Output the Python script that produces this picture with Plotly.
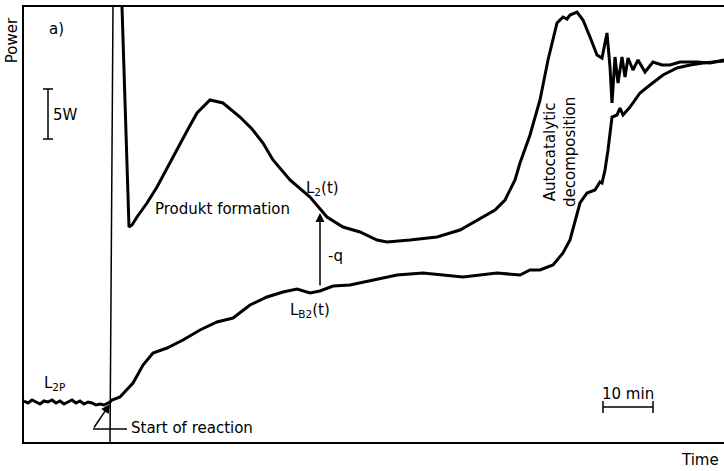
import plotly.graph_objects as go

# time in minutes from start of reaction, power in W (relative to L2P baseline)
t_base = [-17.2, -16.4, -15.6, -14.8, -14.0, -13.2, -12.4, -11.6, -10.8, -10.0, -9.2,
          -8.4, -7.6, -6.8, -6.0, -5.2, -4.4, -3.6, -2.8, -2.0, -1.2, -0.4, 0.0]
p_base = [0.1, -0.1, 0.2, 0.0, -0.2, 0.1, 0.0, 0.2, -0.1, 0.1, -0.2,
          0.0, 0.2, -0.1, 0.1, -0.2, 0.0, -0.1, -0.3, -0.2, -0.3, -0.1, 0.0]

t_l2 = [2.2, 2.4, 3.8, 4.4, 5.4, 7.4, 9.4, 11.4, 13.4, 15.4, 17.4, 20.0, 22.6, 26.0, 28.4,
        30.6, 32.6, 36.0, 40.0, 43.4, 46.6, 50.0, 53.4, 55.4, 60.0, 65.4, 70.0, 73.4,
        77.0, 79.0, 81.0, 82.0, 84.0, 86.0, 87.6, 89.4, 90.6, 91.4, 92.0, 93.4, 94.6,
        96.0, 97.4, 98.4, 99.0, 99.4, 100.0, 100.4, 101.0, 101.6, 102.4, 103.0, 103.6,
        104.6, 105.6, 107.0, 108.6, 110.4, 112.0, 114.0, 117.4, 120.0, 122.8]
p_l2 = [45.0, 39.5, 17.5, 17.7, 18.5, 19.9, 21.5, 23.4, 25.2, 27.1, 28.9, 30.2, 29.9, 28.5,
        27.3, 25.9, 24.2, 22.2, 20.5, 18.5, 17.5, 17.0, 16.2, 16.0, 16.2, 16.5, 17.2, 18.2,
        19.2, 20.2, 22.2, 23.9, 26.7, 30.2, 34.2, 37.9, 38.5, 38.3, 38.7, 39.0, 38.2,
        36.5, 34.7, 34.4, 35.9, 36.9, 33.5, 29.9, 34.5, 31.9, 34.5, 32.5, 34.4,
        33.2, 34.2, 33.0, 34.0, 33.7, 33.7, 34.0, 34.0, 33.9, 34.2]

t_lb2 = [0.0, 0.4, 2.0, 4.6, 6.6, 8.6, 11.4, 14.6, 18.0, 21.4, 24.6, 28.0, 31.4, 34.6,
         37.4, 40.0, 42.0, 44.6, 48.0, 52.6, 57.4, 62.6, 70.6, 77.4, 82.0, 84.0, 86.0,
         88.6, 90.6, 92.0, 93.0, 94.0, 95.4, 97.0, 98.0, 98.4, 99.0, 99.6, 100.4, 101.4,
         102.0, 102.6, 104.0, 106.0, 108.0, 110.6, 113.4, 116.0, 118.6, 122.8]
p_lb2 = [0.0, 0.2, 0.5, 1.9, 3.7, 4.9, 5.4, 6.2, 7.2, 8.0, 8.4, 9.7, 10.5, 11.0,
         11.3, 10.9, 11.1, 11.6, 11.7, 12.2, 12.7, 12.9, 12.5, 12.9, 12.7, 13.2, 13.2,
         13.7, 14.9, 16.2, 18.2, 19.9, 20.9, 21.2, 22.0, 21.9, 23.2, 25.2, 28.5, 28.7,
         29.4, 28.7, 29.5, 30.9, 31.7, 32.7, 33.4, 33.7, 33.9, 34.1]

reaction_start = 0.0
arrow_t = 42.0

fig = go.Figure()
line = dict(color="black", width=3)
fig.add_trace(go.Scatter(x=t_base, y=p_base, mode="lines", line=line))
fig.add_trace(go.Scatter(x=t_l2, y=p_l2, mode="lines", line=line))
fig.add_trace(go.Scatter(x=t_lb2, y=p_lb2, mode="lines", line=line))

thin = dict(color="black", width=1.5)
# start of reaction marker
fig.add_shape(type="line", x0=reaction_start, x1=reaction_start + 0.6, y0=-4.0, y1=39.5, line=thin)
# 5 W scale bar
fig.add_shape(type="line", x0=-12.4, x1=-12.4, y0=26.3, y1=31.3, line=thin)
fig.add_shape(type="line", x0=-13.4, x1=-11.4, y0=31.3, y1=31.3, line=thin)
fig.add_shape(type="line", x0=-13.4, x1=-11.4, y0=26.3, y1=26.3, line=thin)
# 10 min scale bar
fig.add_shape(type="line", x0=98.6, x1=108.6, y0=-0.5, y1=-0.5, line=thin)
fig.add_shape(type="line", x0=98.6, x1=98.6, y0=-1.1, y1=0.1, line=thin)
fig.add_shape(type="line", x0=108.6, x1=108.6, y0=-1.1, y1=0.1, line=thin)
# leader for "Start of reaction"
fig.add_shape(type="line", x0=-3.4, x1=3.4, y0=-2.7, y1=-2.7, line=thin)

font = dict(family="DejaVu Sans", size=15, color="black")
notes = [
    (-10.8, 37.3, "a)", 0),
    (22.4, 19.3, "Produkt formation", 0),
    (42.4, 21.4, "L<sub>2</sub>(t)", 0),
    (45.0, 14.6, "-q", 0),
    (40.0, 9.2, "L<sub>B2</sub>(t)", 0),
    (90.0, 25.0, "Autocatalytic<br>decomposition", -90),
    (-11.2, 1.9, "L<sub>2P</sub>", 0),
    (103.6, 0.8, "10 min", 0),
]
for x, y, txt, ang in notes:
    fig.add_annotation(x=x, y=y, text=txt, showarrow=False, textangle=ang, font=font)
fig.add_annotation(x=-11.8, y=28.7, text="5W", showarrow=False, xanchor="left", font=font)
fig.add_annotation(x=3.8, y=-2.6, text="Start of reaction", showarrow=False, xanchor="left", font=font)

# arrows
fig.add_annotation(x=reaction_start, y=-0.2, ax=-3.4, ay=-2.7, xref="x", yref="y",
                   axref="x", ayref="y", showarrow=True, arrowhead=2, arrowsize=1.2,
                   arrowwidth=1.5, arrowcolor="black", text="")
fig.add_annotation(x=arrow_t, y=18.9, ax=arrow_t, ay=11.5, xref="x", yref="y",
                   axref="x", ayref="y", showarrow=True, arrowhead=2, arrowsize=1.2,
                   arrowwidth=1.5, arrowcolor="black", text="")

fig.add_annotation(x=-0.017, y=0.924, xref="paper", yref="paper", text="Power",
                   textangle=-90, showarrow=False, xanchor="center", yanchor="middle", font=font)
fig.add_annotation(x=0.966, y=-0.041, xref="paper", yref="paper", text="Time",
                   showarrow=False, xanchor="center", yanchor="middle", font=font)

fig.update_layout(
    width=724, height=471,
    margin=dict(l=24, r=0, t=7, b=29),
    plot_bgcolor="white", paper_bgcolor="white",
    showlegend=False,
    xaxis=dict(range=[-17.2, 122.8], showline=True, mirror=True, linecolor="black",
               linewidth=2, showgrid=False, zeroline=False, showticklabels=False, ticks=""),
    yaxis=dict(range=[-4.0, 39.5], showline=True, linecolor="black", linewidth=2,
               showgrid=False, zeroline=False, showticklabels=False, ticks=""),
)

fig.write_html("out.html", config={"displayModeBar": False},
               post_script="document.body.style.margin='0';")
